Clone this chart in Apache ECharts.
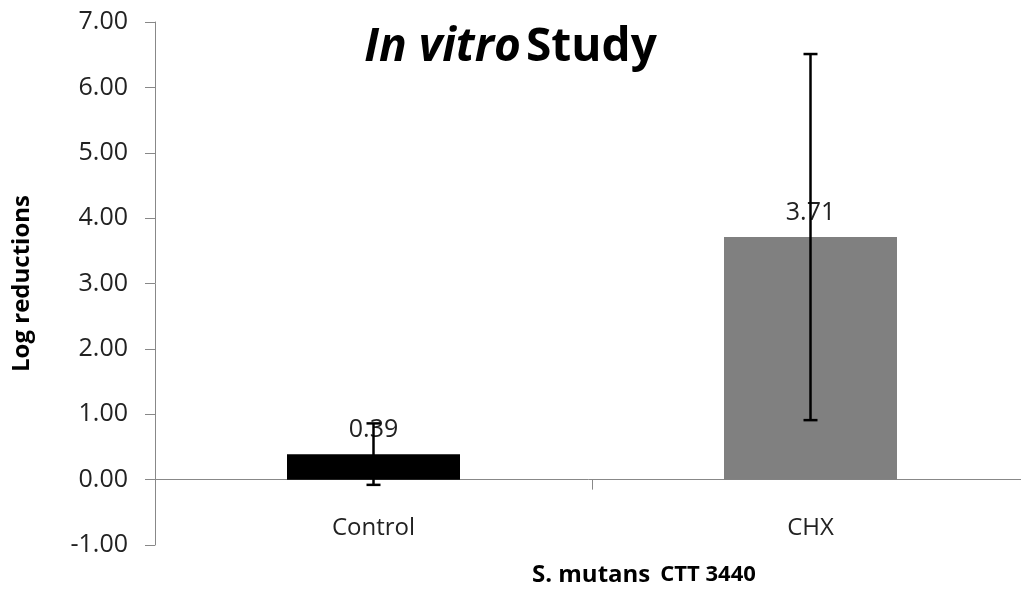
<!DOCTYPE html>
<html lang="en">
<head>
    <meta charset="UTF-8">
    <title>In vitro Study</title>
    <script src="https://cdn.jsdelivr.net/npm/echarts@6/dist/echarts.min.js"></script>
    <style>
        html, body { margin: 0; padding: 0; background: #fff; }
        #mChart { width: 1021px; height: 590px; }
    </style>
</head>
<body>
    <div id="mChart"></div>

    <script type="text/javascript">
        // data
        var categories = ['Control', 'CHX']
        var means = [0.39, 3.71]
        var errors = [0.47, 2.80]
        var barColors = ['#000000', '#808080']
        var yTicks = [-1, 0, 1, 2, 3, 4, 5, 6, 7]

        var font = 'Open Sans'
        var mChart = echarts.init(document.getElementById('mChart'))

        mChart.setOption({
            animation: false,
            title: [{
                text: '{i|In vitro} {n|Study}',
                left: 'center',
                top: 20,
                textStyle: {
                    rich: {
                        i: { fontFamily: font, fontSize: 46, fontStyle: 'italic', fontWeight: 'bold', color: '#000' },
                        n: { fontFamily: font, fontSize: 46, fontWeight: 'bold', color: '#000' }
                    }
                }
            }, {
                text: '{a|S. mutans}  {b|CTT 3440}',
                left: 527,
                top: 558,
                textStyle: {
                    rich: {
                        a: { fontFamily: font, fontSize: 24, fontWeight: 'bold', color: '#000' },
                        b: { fontFamily: font, fontSize: 22, fontWeight: 'bold', color: '#000' }
                    }
                }
            }],
            grid: { left: 155, right: -8, top: 22, bottom: 45, outerBoundsMode: 'none', containLabel: false },
            xAxis: {
                type: 'category',
                data: categories,
                axisLine: { onZero: true, lineStyle: { color: '#888', width: 1 } },
                axisTick: { show: true, length: 10, alignWithLabel: false, lineStyle: { color: '#888' } },
                axisLabel: { margin: -29, fontFamily: font, fontSize: 24, color: '#222' }
            },
            yAxis: {
                type: 'value',
                min: yTicks[0],
                max: yTicks[yTicks.length - 1],
                interval: 1,
                name: 'Log reductions',
                nameLocation: 'middle',
                nameGap: 121,
                nameTextStyle: { fontFamily: font, fontSize: 24, fontWeight: 'bold', color: '#000' },
                splitLine: { show: false },
                axisLine: { show: true, lineStyle: { color: '#888', width: 1 } },
                axisTick: { show: true, length: 10, lineStyle: { color: '#888' } },
                axisLabel: {
                    margin: 27,
                    fontFamily: font,
                    fontSize: 25,
                    color: '#222',
                    formatter: function (v) { return v.toFixed(2) }
                }
            },
            series: [{
                type: 'bar',
                barWidth: 173,
                data: means.map(function (v, i) {
                    return { value: v, itemStyle: { color: barColors[i] } }
                }),
                label: {
                    show: true,
                    position: 'top',
                    distance: 12,
                    fontFamily: font,
                    fontSize: 25,
                    color: '#222',
                    formatter: function (p) { return p.value.toFixed(2) }
                }
            }, {
                type: 'custom',
                z: 10,
                data: means.map(function (v, i) { return [i, v - errors[i], v + errors[i]] }),
                renderItem: function (params, api) {
                    var lo = api.coord([api.value(0), api.value(1)])
                    var hi = api.coord([api.value(0), api.value(2)])
                    var cap = 7
                    var style = { stroke: '#000', lineWidth: 2.5 }
                    return {
                        type: 'group',
                        children: [
                            { type: 'line', shape: { x1: lo[0], y1: lo[1], x2: hi[0], y2: hi[1] }, style: style },
                            { type: 'line', shape: { x1: hi[0] - cap, y1: hi[1], x2: hi[0] + cap, y2: hi[1] }, style: style },
                            { type: 'line', shape: { x1: lo[0] - cap, y1: lo[1], x2: lo[0] + cap, y2: lo[1] }, style: style }
                        ]
                    }
                }
            }]
        })
    </script>
</body>
</html>
